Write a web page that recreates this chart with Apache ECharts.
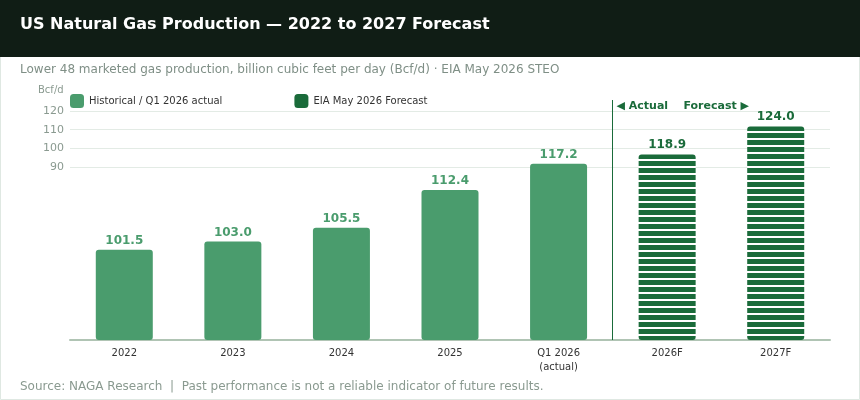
<!DOCTYPE html>
<html lang="en">
<head>
<meta charset="UTF-8">
<title>US Natural Gas Production</title>
<style>
  html, body { margin: 0; padding: 0; background: #fff; }
  #main { width: 860px; height: 400px; }
</style>
</head>
<body>
<div id="main"></div>
<script src="https://cdn.jsdelivr.net/npm/echarts@6/dist/echarts.min.js"></script>
<script>
var categories = ['2022', '2023', '2024', '2025', 'Q1 2026\n(actual)', '2026F', '2027F'];
var production = [101.5, 103.0, 105.5, 112.4, 117.2, 118.9, 124.0];
var forecastFrom = 5;
var gridTicks = [90, 100, 110, 120];

var histColor = '#4a9c6d';
var fcColor = '#1a6b3a';
var font = 'DejaVu Sans';

var historical = production.map(function (v, i) { return i < forecastFrom ? v : '-'; });
var forecast = production.map(function (v, i) { return i >= forecastFrom ? v : '-'; });

// horizontal stripes for forecast bars
var stripe = document.createElement('canvas');
stripe.width = 8;
stripe.height = 7;
var ctx = stripe.getContext('2d');
ctx.fillStyle = '#fff';
ctx.fillRect(0, 0, 8, 7);
ctx.fillStyle = fcColor;
ctx.fillRect(0, 0, 8, 5);

var chart = echarts.init(document.getElementById('main'));

var option = {
  animation: false,
  textStyle: { fontFamily: font },
  title: {
    text: 'US Natural Gas Production \u2014 2022 to 2027 Forecast',
    left: 15,
    top: 12,
    textStyle: { color: '#fff', fontSize: 16, fontWeight: 'bold', fontFamily: font }
  },
  legend: {
    left: 65,
    top: 89,
    itemWidth: 14,
    itemHeight: 14,
    itemGap: 72,
    textStyle: { color: '#333', fontSize: 10, fontFamily: font },
    data: [
      { name: 'Historical / Q1 2026 actual', icon: 'roundRect', itemStyle: { color: histColor } },
      { name: 'EIA May 2026 Forecast', icon: 'roundRect', itemStyle: { color: fcColor } }
    ]
  },
  grid: [
    { left: 70, right: 30, top: 121, bottom: 60 },
    { left: 70, right: 30, top: 111, bottom: 233 }
  ],
  xAxis: [
    {
      type: 'category',
      gridIndex: 0,
      data: categories,
      axisLine: { lineStyle: { color: '#b0c4b4', width: 2 } },
      axisTick: { show: false },
      axisLabel: { color: '#333', fontSize: 10, margin: 6, lineHeight: 14 }
    },
    { type: 'category', gridIndex: 1, data: categories, show: false }
  ],
  yAxis: [
    { type: 'value', gridIndex: 0, min: 85, max: 125, show: false },
    {
      type: 'value',
      gridIndex: 1,
      min: gridTicks[0],
      max: gridTicks[gridTicks.length - 1],
      interval: 10,
      axisLine: { show: false },
      axisTick: { show: false },
      axisLabel: { color: '#8a9a90', fontSize: 11, margin: 6 },
      splitLine: { lineStyle: { color: '#e3ebe5', width: 1 } }
    }
  ],
  series: [
    {
      name: 'Historical / Q1 2026 actual',
      type: 'bar',
      stack: 'p',
      barWidth: 57,
      data: historical,
      itemStyle: { color: histColor, borderRadius: 3 },
      label: {
        show: true,
        position: 'top',
        distance: 3,
        color: histColor,
        fontSize: 12,
        fontWeight: 'bold',
        formatter: function (p) { return p.value.toFixed(1); }
      }
    },
    {
      name: 'EIA May 2026 Forecast',
      type: 'bar',
      stack: 'p',
      barWidth: 57,
      data: forecast,
      itemStyle: { color: { image: stripe, repeat: 'repeat' }, borderRadius: 3 },
      label: {
        show: true,
        position: 'top',
        distance: 4,
        color: fcColor,
        fontSize: 12,
        fontWeight: 'bold',
        formatter: function (p) { return p.value.toFixed(1); }
      }
    }
  ]
};
chart.setOption(option);

// divider between actual and forecast
var xa = chart.convertToPixel({ xAxisIndex: 0 }, categories[forecastFrom - 1]);
var xb = chart.convertToPixel({ xAxisIndex: 0 }, categories[forecastFrom]);
var divX = Math.round((xa + xb) / 2) - 0.5;
var base = chart.convertToPixel({ yAxisIndex: 0 }, 85);

chart.setOption({
  graphic: [
    {
      type: 'rect', z: -10, silent: true,
      shape: { x: 0.5, y: 0.5, width: 859, height: 399 },
      style: { fill: '#fff', stroke: '#dfe8e2', lineWidth: 1 }
    },
    {
      type: 'rect', z: -5, silent: true,
      shape: { x: 0, y: 0, width: 860, height: 57 },
      style: { fill: '#101d15' }
    },
    {
      type: 'text', left: 20, top: 64,
      style: {
        text: 'Lower 48 marketed gas production, billion cubic feet per day (Bcf/d) \u00b7 EIA May 2026 STEO',
        fill: '#7f8f86', font: '12px "DejaVu Sans"'
      }
    },
    {
      type: 'text', left: 38, top: 85,
      style: { text: 'Bcf/d', fill: '#8a9a90', font: '10px "DejaVu Sans"' }
    },
    {
      type: 'line', silent: true, z: 10,
      shape: { x1: divX, y1: 100, x2: divX, y2: base },
      style: { stroke: fcColor, lineWidth: 1 }
    },
    {
      type: 'text', left: divX + 4, top: 101,
      style: {
        text: '\u25c0 Actual    Forecast \u25b6',
        fill: fcColor, font: 'bold 11px "DejaVu Sans"'
      }
    },
    {
      type: 'text', left: 20, top: 381,
      style: {
        text: 'Source: NAGA Research  |  Past performance is not a reliable indicator of future results.',
        fill: '#8a9a90', font: '12px "DejaVu Sans"'
      }
    }
  ]
});
</script>
</body>
</html>
